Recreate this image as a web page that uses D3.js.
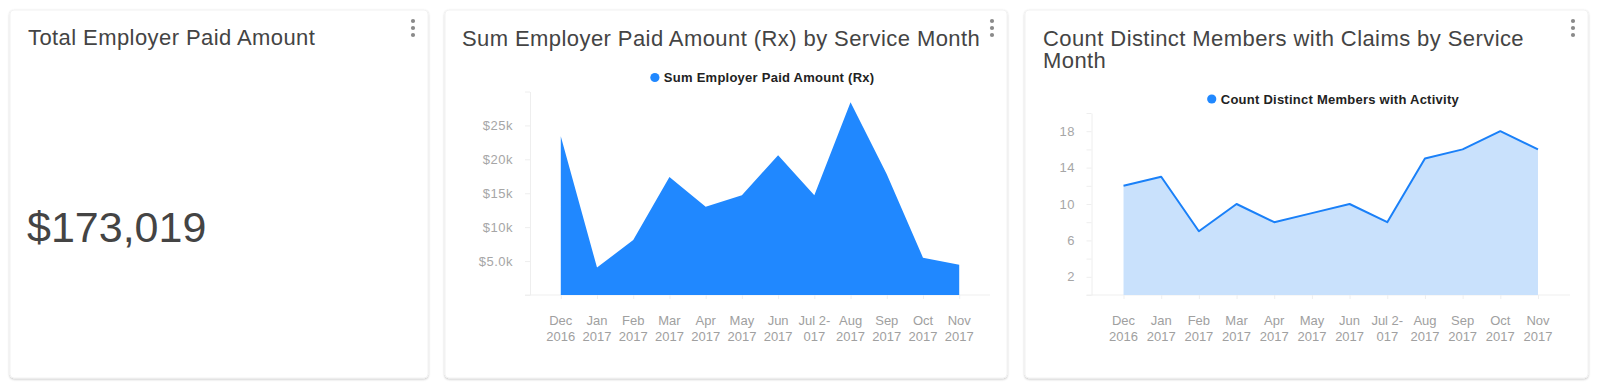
<!DOCTYPE html>
<html>
<head>
<meta charset="utf-8">
<script src="https://cdn.jsdelivr.net/npm/d3@7"></script>
<style>
  html, body { margin: 0; padding: 0; background: #fff; }
  svg { display: block; font-family: "Helvetica Neue", Helvetica, "Liberation Sans", Arial, sans-serif; }
</style>
</head>
<body>
<svg id="board" width="1600" height="389"></svg>
<script>
// ---- data ----
var months = ['Dec 2016', 'Jan 2017', 'Feb 2017', 'Mar 2017', 'Apr 2017', 'May 2017',
              'Jun 2017', 'Jul 2017', 'Aug 2017', 'Sep 2017', 'Oct 2017', 'Nov 2017'];
// labels as they wrap on screen (the Jul one breaks mid word)
var month_labels = [['Dec', '2016'], ['Jan', '2017'], ['Feb', '2017'], ['Mar', '2017'],
                    ['Apr', '2017'], ['May', '2017'], ['Jun', '2017'], ['Jul 2-', '017'],
                    ['Aug', '2017'], ['Sep', '2017'], ['Oct', '2017'], ['Nov', '2017']];
var rx_paid = [23400, 4050, 8100, 17400, 13000, 14700, 20600, 14700, 28400, 17800, 5500, 4450];
var members = [12, 13, 7, 10, 8, 9, 10, 8, 15, 16, 18, 16];
var rx_ticks = [0, 5000, 10000, 15000, 20000, 25000, 30000];
var rx_labelled = [5000, 10000, 15000, 20000, 25000];
var member_ticks = [0, 2, 4, 6, 8, 10, 12, 14, 16, 18, 20];
var member_labelled = [2, 6, 10, 14, 18];
var total_paid = '$173,019';

var titles = {
    total: ['Total Employer Paid Amount'],
    rx: ['Sum Employer Paid Amount (Rx) by Service Month'],
    members: ['Count Distinct Members with Claims by Service', 'Month']
};

var svg = d3.select('#board');

// soft card shadow
var defs = svg.append('defs');
var shadow = defs.append('filter').attr('id', 'shadow')
    .attr('x', '-5%').attr('y', '-5%').attr('width', '110%').attr('height', '110%');
shadow.append('feDropShadow')
    .attr('dx', 0).attr('dy', 1).attr('stdDeviation', 1)
    .attr('flood-color', '#000').attr('flood-opacity', 0.22);

var draw_card = function(x0, x1, y0, y1) {
    var g = svg.append('g');
    g.append('rect')
        .attr('x', x0).attr('y', y0)
        .attr('width', x1 - x0).attr('height', y1 - y0)
        .attr('rx', 4)
        .attr('fill', '#fff')
        .attr('stroke', '#f2f2f2')
        .attr('filter', 'url(#shadow)');
    // the three dot menu
    g.selectAll('circle.menu')
        .data([0, 1, 2])
        .enter().append('circle')
        .attr('class', 'menu')
        .attr('cx', x1 - 15)
        .attr('cy', function(d) { return y0 + 11 + d * 7; })
        .attr('r', 2.1)
        .attr('fill', '#8a8a8a');
    return g;
};

var draw_title = function(g, lines, x, y) {
    var t = g.append('text')
        .attr('x', x).attr('y', y)
        .attr('fill', '#444')
        .style('font-size', '22px')
        .style('letter-spacing', '0.42px');
    t.selectAll('tspan')
        .data(lines)
        .enter().append('tspan')
        .attr('x', x)
        .attr('dy', function(d, i) { return i ? 21.7 : 0; })
        .text(function(d) { return d; });
};

var draw_legend = function(g, label, cx, cy) {
    var lg = g.append('g');
    lg.append('circle').attr('cx', 0).attr('cy', 0).attr('r', 4.6).attr('fill', '#2088ff');
    var t = lg.append('text')
        .attr('x', 9).attr('y', 4.5)
        .attr('fill', '#222')
        .style('font-size', '13px')
        .style('letter-spacing', '0.25px')
        .style('font-weight', 'bold')
        .text(label);
    var w = 9 + t.node().getComputedTextLength();
    lg.attr('transform', 'translate(' + (cx - w / 2 + 4.6) + ',' + cy + ')');
};

// shared chart drawing: point x scale over the months, linear y
var draw_chart = function(g, opt) {
    var x = d3.scalePoint()
        .domain(months)
        .range([opt.left, opt.right])
        .padding(0.85);
    var y = d3.scaleLinear()
        .domain(opt.domain)
        .range([opt.bottom, opt.top]);

    // y axis
    var yAxis = g.append('g')
        .attr('transform', 'translate(' + opt.left + ',0)')
        .call(d3.axisLeft(y)
            .tickValues(opt.ticks)
            .tickSize(5)
            .tickSizeOuter(0)
            .tickPadding(opt.labelPad)
            .tickFormat(function(d) { return opt.labelled.indexOf(d) >= 0 ? opt.fmt(d) : ''; }));
    yAxis.select('.domain').attr('stroke', '#eeeeee');
    yAxis.selectAll('.tick line').attr('stroke', '#eeeeee');
    yAxis.selectAll('.tick text')
        .attr('fill', '#a6a6a6')
        .style('font-size', '13px')
        .style('letter-spacing', '0.5px')
        .style('font-family', '"Helvetica Neue", Helvetica, "Liberation Sans", Arial, sans-serif');

    // baseline
    g.append('line')
        .attr('x1', opt.left - 5).attr('x2', opt.right)
        .attr('y1', opt.bottom).attr('y2', opt.bottom)
        .attr('stroke', '#efefef');

    // x axis ticks + two-line labels
    var xAxis = g.append('g')
        .attr('transform', 'translate(0,' + opt.bottom + ')')
        .call(d3.axisBottom(x).tickSize(4).tickSizeOuter(0).tickFormat(''));
    xAxis.select('.domain').remove();
    xAxis.selectAll('.tick line').attr('stroke', '#efefef');

    var lbl = g.append('g').selectAll('text')
        .data(months)
        .enter().append('text')
        .attr('text-anchor', 'middle')
        .attr('fill', '#a0a0a0')
        .style('font-size', '13px')
        .attr('transform', function(d) { return 'translate(' + x(d) + ',' + (opt.bottom + 30) + ')'; });
    lbl.selectAll('tspan')
        .data(function(d, i) { return month_labels[i]; })
        .enter().append('tspan')
        .attr('x', 0)
        .attr('dy', function(d, i) { return i ? 16 : 0; })
        .text(function(d) { return d; });

    // series
    var area = d3.area()
        .x(function(d, i) { return x(months[i]); })
        .y0(y(0))
        .y1(function(d) { return y(d); });
    g.append('path')
        .datum(opt.values)
        .attr('d', area)
        .attr('fill', opt.fill);
    if (opt.stroke) {
        var line = d3.line()
            .x(function(d, i) { return x(months[i]); })
            .y(function(d) { return y(d); });
        g.append('path')
            .datum(opt.values)
            .attr('d', line)
            .attr('fill', 'none')
            .attr('stroke', opt.stroke)
            .attr('stroke-width', 2)
            .attr('stroke-linejoin', 'round');
    }

    draw_legend(g, opt.legend, (opt.left + opt.right) / 2, opt.top - 14);
};

// ---- card 1: single value ----
var c1 = draw_card(10, 428, 10, 378);
draw_title(c1, titles.total, 28, 45);
c1.append('text')
    .attr('x', 27).attr('y', 242)
    .attr('fill', '#444')
    .style('font-size', '43px')
    .text(total_paid);

// ---- card 2: rx paid area ----
var c2 = draw_card(445, 1007, 10, 378);
draw_title(c2, titles.rx, 462, 46);
draw_chart(c2, {
    left: 530, right: 990, top: 91.5, bottom: 295,
    domain: [0, 30000],
    ticks: rx_ticks, labelled: rx_labelled, labelPad: 12,
    fmt: d3.format('$.2s'),
    values: rx_paid,
    fill: '#2088ff',
    legend: 'Sum Employer Paid Amount (Rx)'
});

// ---- card 3: members line + light area ----
var c3 = draw_card(1025, 1588, 10, 378);
draw_title(c3, titles.members, 1043, 46);
draw_chart(c3, {
    left: 1091.5, right: 1570, top: 113, bottom: 295,
    domain: [0, 20],
    ticks: member_ticks, labelled: member_labelled, labelPad: 11.5,
    fmt: d3.format('d'),
    values: members,
    fill: '#c9e1fc',
    stroke: '#1a80f8',
    legend: 'Count Distinct Members with Activity'
});
</script>
</body>
</html>
